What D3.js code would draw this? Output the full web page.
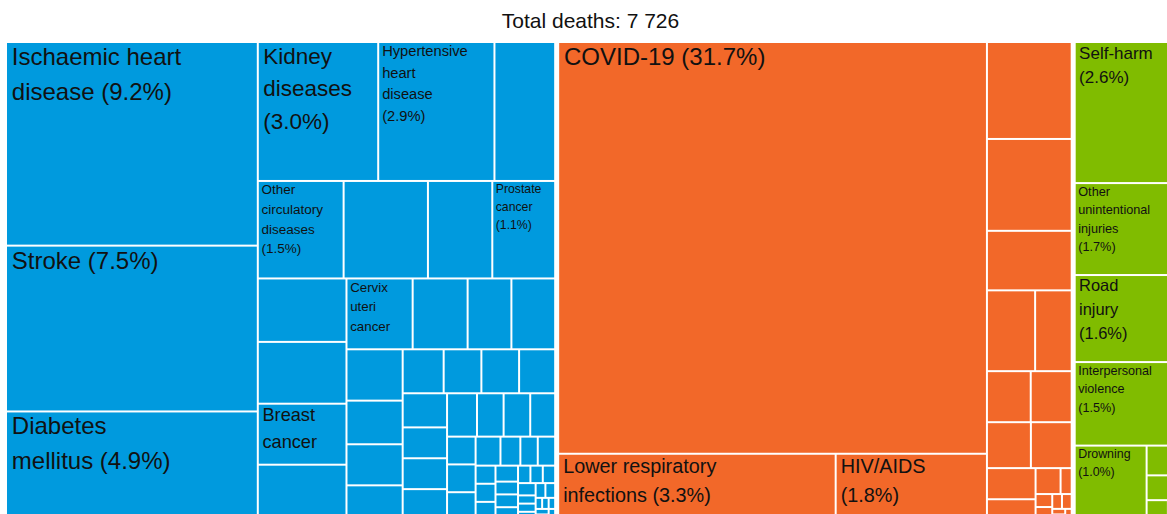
<!DOCTYPE html>
<html>
<head>
<meta charset="utf-8">
<script src="https://cdn.jsdelivr.net/npm/d3@7"></script>
<style>
html, body { margin: 0; padding: 0; overflow: hidden; background: #fff; }
svg { display: block; font-family: "Liberation Sans", Arial, sans-serif; }
</style>
</head>
<body>
<svg id="chart" width="1181" height="526"></svg>
<script>
// ---------------- DATA ----------------
const totalDeaths = 7726;
const groupNames = [
  "Noncommunicable diseases",
  "Communicable, maternal, perinatal and nutritional conditions",
  "Injuries"
];

// Noncommunicable diseases (deaths); unnamed entries are causes not labelled in the chart
const ncdCauses = [
  "Ischaemic heart disease", "Stroke", "Diabetes mellitus", "Kidney diseases",
  "Hypertensive heart disease", null, "Other circulatory diseases", null, null,
  "Prostate cancer", null, null, "Breast cancer", null, "Cervix uteri cancer"
];
const ncdDeaths = [
  711, 579, 379, 232, 224, 117, 116, 114, 87, 85, 78, 76, 75, 68, 65, 54, 43, 43,
  40, 34, 32, 27, 25, 23, 23, 22, 21, 19, 19, 19, 18, 16, 16, 15, 11, 11, 11, 10,
  8, 7, 7, 5, 5, 5, 5, 4, 4, 4, 3, 3, 3, 3, 2, 2, 2, 2, 2, 1, 1, 1, 1, 1, 1
];

// Communicable, maternal, perinatal and nutritional conditions
const cmpnLeadCauses = ["COVID-19", "Lower respiratory infections", "HIV/AIDS"];
const cmpnLeadDeaths = [2449, 255, 139];
const cmpnOtherDeaths = [114, 108, 70, 54, 41, 31, 29, 28, 26, 21, 14, 9, 4, 3, 3, 2, 2, 1, 1, 1];

// Injuries
const injCauses = ["Self-harm", "Other unintentional injuries", "Road injury", "Interpersonal violence", "Drowning"];
const injDeaths = [201, 131, 124, 119, 76, 12, 10, 6, 2];

// ---------------- LAYOUT ----------------
const X0 = 7, Y0 = 43, W = 1167, H = 476;
const colors = d3.scaleOrdinal(groupNames, ["#009ADE", "#F26829", "#80BC00"]);
const fmtInt = d3.formatLocale({decimal: ".", thousands: " ", grouping: [3], currency: ["", ""]}).format(",");

function leaves(names, values) {
  return values.map((v, i) => ({name: names[i] || null, value: v}));
}
const data = {name: "All causes", children: [
  {name: groupNames[0], children: leaves(ncdCauses, ncdDeaths)},
  {name: groupNames[1], children: [
    {name: "lead", children: leaves(cmpnLeadCauses, cmpnLeadDeaths)},
    {name: "other", children: leaves([], cmpnOtherDeaths)}
  ]},
  {name: groupNames[2], children: leaves(injCauses, injDeaths)}
]};

const root = d3.hierarchy(data)
  .sum(d => d.children ? 0 : d.value)
  .sort((a, b) => b.value - a.value);

d3.treemap()
  .tile(d3.treemapSquarify.ratio(1.4))
  .size([W, H])
  .paddingInner(n => n.depth === 0 ? 5 : 2)(root);

const svg = d3.select("#chart");

svg.append("text")
  .attr("x", X0 + W / 2)
  .attr("y", 28)
  .attr("text-anchor", "middle")
  .attr("font-size", 21)
  .attr("fill", "#111")
  .text("Total deaths: " + fmtInt(totalDeaths));

const g = svg.append("g").attr("transform", `translate(${X0},${Y0})`);

const leafNodes = root.leaves();
const groupOf = n => n.ancestors().find(a => a.depth === 1).data.name;

g.selectAll("rect.cell")
  .data(leafNodes)
  .join("rect")
  .attr("class", "cell")
  .attr("x", d => d.x0)
  .attr("y", d => d.y0)
  .attr("width", d => Math.max(0, d.x1 - d.x0))
  .attr("height", d => Math.max(0, d.y1 - d.y0))
  .attr("fill", d => colors(groupOf(d)));

// ---------------- LABELS ----------------
const ctx = document.createElement("canvas").getContext("2d");
ctx.font = '100px "Liberation Sans", Arial, sans-serif';
const em = s => ctx.measureText(s).width / 100;

function wrap(words, fs, limit) {
  const n = words.length;
  let best = null;
  for (let mask = 0; mask < (1 << (n - 1)); mask++) {
    const lines = [];
    let cur = [words[0]];
    for (let i = 1; i < n; i++) {
      if (mask & (1 << (i - 1))) { lines.push(cur.join(" ")); cur = [words[i]]; }
      else cur.push(words[i]);
    }
    lines.push(cur.join(" "));
    const widths = lines.map(l => em(l) * fs);
    const ok = lines.every((l, i) => widths[i] <= limit + 0.01 || !l.includes(" "));
    if (!ok) continue;
    const mx = Math.max(...widths);
    if (!best || lines.length < best.lines.length ||
        (lines.length === best.lines.length && mx < best.mx)) best = {lines, mx};
  }
  return best ? best.lines : words.slice();
}

const MAXFS = 24, LH = 1.46, WF = 0.75;
const blockEm = n => 1.92 * n - 0.6;   // vertical room a block of n lines needs, in em
function fitLabel(name, pctStr, w, h) {
  const limit = WF * w;
  const solve = words => {
    const fsW = Math.min(MAXFS, limit / d3.max(words, em));
    const lines = wrap(words, fsW, limit);
    return {fsW, lines, fsH: h / blockEm(lines.length)};
  };
  const base = name.split(" ");
  let s = solve(base.concat(pctStr));
  if (s.fsH >= s.fsW) return {fs: s.fsW, lines: s.lines};
  if (s.fsW >= MAXFS || s.fsH >= 0.93 * s.fsW) return {fs: s.fsH, lines: s.lines};
  s = solve(base);
  return {fs: Math.min(s.fsW, s.fsH), lines: s.lines};
}

leafNodes.filter(d => d.data.name).forEach(d => {
  const w = d.x1 - d.x0, h = d.y1 - d.y0;
  const pct = "(" + (d.value / totalDeaths * 100).toFixed(1) + "%)";
  const lab = fitLabel(d.data.name, pct, w, h);
  const fs = lab.fs;
  const t = g.append("text")
    .attr("font-size", fs.toFixed(2))
    .attr("fill", "#111");
  lab.lines.forEach((line, i) => {
    t.append("tspan")
      .attr("x", d.x0 + 0.2 * fs)
      .attr("y", d.y0 + 0.916 * fs + i * LH * fs)
      .text(line);
  });
});
</script>
</body>
</html>
